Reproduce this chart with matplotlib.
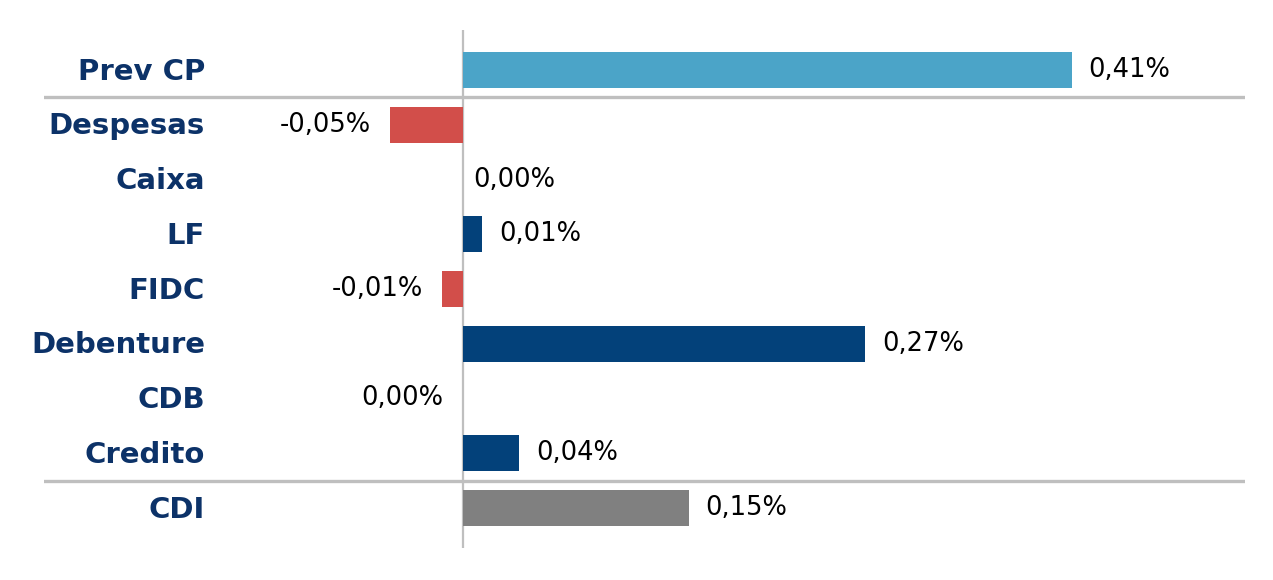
import numpy as np
import matplotlib.pyplot as plt

categories = ['Prev CP', 'Despesas', 'Caixa', 'LF', 'FIDC', 'Debenture', 'CDB', 'Credito', 'CDI']
values = [0.41, -0.049, 0.0003, 0.013, -0.014, 0.271, -0.0003, 0.038, 0.152]
labels = ['0,41%', '-0,05%', '0,00%', '0,01%', '-0,01%', '0,27%', '0,00%', '0,04%', '0,15%']
colors = ['#4BA4C8', '#D24E4A', '#03417A', '#03417A', '#D24E4A', '#03417A', '#D24E4A', '#03417A', '#808080']

fig = plt.figure(figsize=(12.73, 5.8), dpi=100)
# axes spans the separator lines horizontally and the zero line vertically
ax = fig.add_axes([44 / 1273, 1 - 548 / 580, (1245 - 44) / 1273, (548 - 30) / 580])

ypos = np.arange(len(categories))
ax.barh(ypos, values, height=0.66, color=colors, zorder=2)

ax.set_xlim((44 - 463) / 1485, (1245 - 463) / 1485)
ax.set_ylim(8.731, -0.731)
ax.axis('off')

ax.axvline(0, color='#BFBFBF', lw=1.6, zorder=1)
for y in [0.5, 7.5]:
    ax.axhline(y, color='#BFBFBF', lw=2.4, zorder=1)

for i, (cat, v, lab) in enumerate(zip(categories, values, labels)):
    ax.text(-0.1737, i + 0.03, cat, ha='right', va='center', fontsize=21,
            fontweight='bold', color='#0C3268')
    if v >= 0:
        off = 7 if v < 0.001 else 12
        ax.annotate(lab, (v, i), xytext=(off, 0),
                    textcoords='offset points', ha='left', va='center',
                    fontsize=18.5, color='black')
    else:
        ax.annotate(lab, (v, i), xytext=(-14, 0), textcoords='offset points',
                    ha='right', va='center', fontsize=18.5, color='black')

fig.savefig('out.png', dpi=100)
